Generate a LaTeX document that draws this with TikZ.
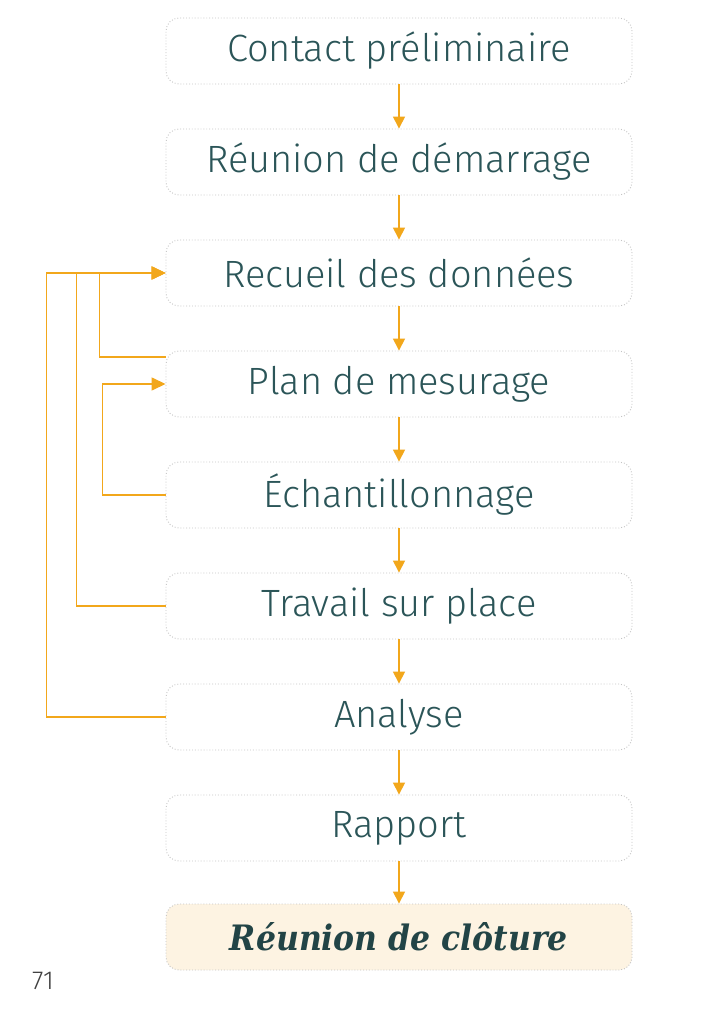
\documentclass[tikz,border=0pt]{standalone}
\usepackage{fontspec}
\newfontfamily\stepfont{Fira Sans Light}
\newfontfamily\endfont{DejaVu Serif Condensed}
\usetikzlibrary{arrows.meta}
\definecolor{teal}{HTML}{2B5558}
\definecolor{orng}{HTML}{F2A71B}
\definecolor{cream}{HTML}{FDF3E2}
\definecolor{dotgray}{HTML}{C4C4C4}
\begin{document}
\begin{tikzpicture}[x=1pt,y=-1pt,
  stepbox/.style={draw=dotgray,dotted,line width=0.9pt,rounded corners=13pt,minimum width=466pt,minimum height=66pt,
    font=\stepfont\fontsize{38}{42}\selectfont,text=teal,inner sep=0pt},
  endbox/.style={stepbox,fill=cream,font=\endfont\bfseries\itshape\fontsize{35}{40}\selectfont,text=teal!80!black},
  flow/.style={draw=orng,line width=1.5pt,-{Triangle[length=12pt,width=12pt]}},
  fb/.style={draw=orng,line width=1.5pt,-{Triangle[length=14pt,width=13pt]}}]
\useasboundingbox (0,0) rectangle (717,1024);
\fill[white] (0,0) rectangle (717,1024);
\node[stepbox] (contact)  at (399,51)  {Contact préliminaire};
\node[stepbox] (reunion)  at (399,162) {Réunion de démarrage};
\node[stepbox] (recueil)  at (399,273) {Recueil des données};
\node[stepbox] (plan)     at (399,384) {Plan de mesurage};
\node[stepbox] (echant)   at (399,495) {Échantillonnage};
\node[stepbox] (travail)  at (399,606) {Travail sur place};
\node[stepbox] (analyse)  at (399,717) {Analyse};
\node[stepbox] (rapport)  at (399,828) {Rapport};
\node[endbox]  (cloture)  at (399,937) {Réunion de clôture};
\foreach \a/\b in {contact/reunion,reunion/recueil,recueil/plan,plan/echant,echant/travail,travail/analyse,analyse/rapport,rapport/cloture}
  \draw[flow] (\a.south) -- (\b.north);
\draw[fb] (analyse.west) -- ++(-119,0) |- (recueil.west);
\draw[fb] (travail.west) -- ++(-89,0) |- (recueil.west);
\draw[fb] ([yshift=27pt]plan.west) -- ++(-66,0) |- (recueil.west);
\draw[fb] (echant.west) -- ++(-63,0) |- (plan.west);
\node[font=\stepfont\fontsize{26}{30}\selectfont,text=black!75] (page) at (43,981) {71};
\end{tikzpicture}
\end{document}
